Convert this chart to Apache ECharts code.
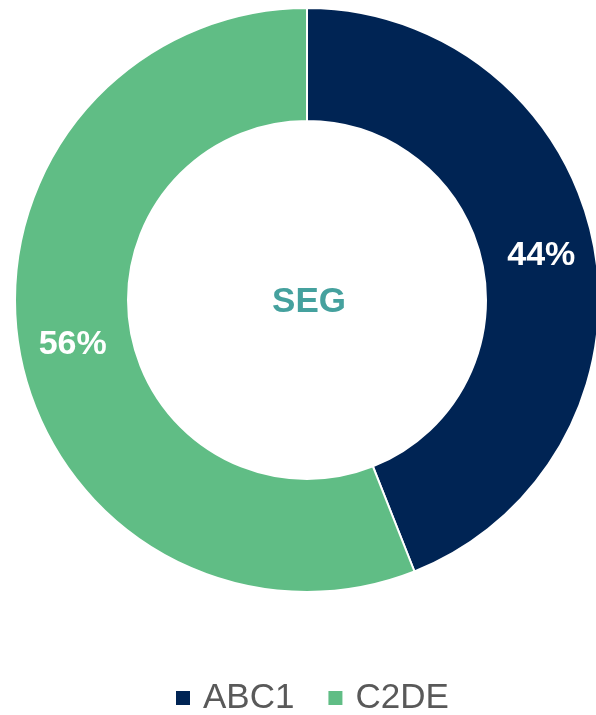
<!DOCTYPE html>
<html><head><meta charset="utf-8">
<script src="https://cdn.jsdelivr.net/npm/echarts@6/dist/echarts.min.js"></script>
<style>html,body{margin:0;padding:0;background:#fff}#c{width:596px;height:715px}</style>
</head><body><div id="c"></div>
<script>
const categories = ['ABC1', 'C2DE'];
const values = [44, 56];
const colors = ['#002454', '#60BD85'];
const centerTitle = 'SEG';

const chart = echarts.init(document.getElementById('c'), null, {renderer: 'canvas'});
chart.setOption({
  animation: false,
  title: {
    text: centerTitle, left: 304, top: 297, textAlign: 'center', textVerticalAlign: 'middle',
    textStyle: {fontFamily: 'Liberation Sans, Arial', fontWeight: 'bold', fontSize: 35, color: '#45A19E'}
  },
  legend: {
    top: 680, left: 176, icon: 'rect', itemWidth: 14, itemHeight: 14, itemGap: 34, padding: 0,
    itemStyle: {borderWidth: 0},
    textStyle: {fontFamily: 'Liberation Sans, Arial', fontSize: 35, color: '#595959', padding: [0,0,0,8], lineHeight: 36},
    data: categories
  },
  series: [{
    type: 'pie', center: [307, 300], radius: [179, 292], startAngle: 90, clockwise: true,
    itemStyle: {borderColor: '#fff', borderWidth: 2},
    label: {
      show: true, position: 'inside', formatter: '{c}%', color: '#fff',
      fontFamily: 'Liberation Sans, Arial', fontWeight: 'bold', fontSize: 34
    },
    labelLine: {show: false},
    data: categories.map((n, i) => ({name: n, value: values[i], itemStyle: {color: colors[i]}}))
  }]
});
</script></body></html>
